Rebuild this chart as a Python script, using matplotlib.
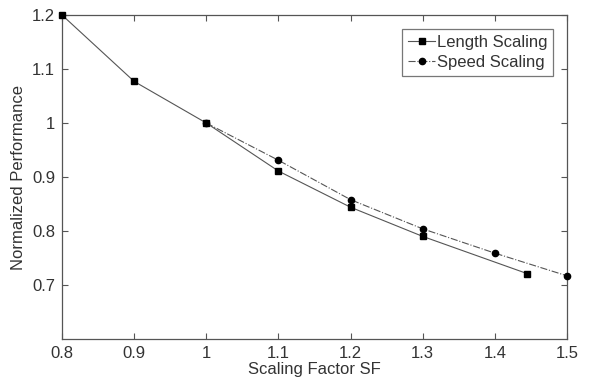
import matplotlib
matplotlib.use("Agg")
import matplotlib.pyplot as plt

plt.rcParams['font.family'] = ['Liberation Sans', 'DejaVu Sans']

length_x = [0.8, 0.9, 1.0, 1.1, 1.2, 1.3, 1.445]
length_y = [1.2, 1.077, 1.0, 0.911, 0.844, 0.790, 0.721]
speed_x = [1.0, 1.1, 1.2, 1.3, 1.4, 1.5]
speed_y = [1.0, 0.931, 0.858, 0.804, 0.759, 0.717]
xticks = [0.8, 0.9, 1.0, 1.1, 1.2, 1.3, 1.4, 1.5]
xticklabels = ['0.8', '0.9', '1', '1.1', '1.2', '1.3', '1.4', '1.5']
yticks = [0.7, 0.8, 0.9, 1.0, 1.1, 1.2]
yticklabels = ['0.7', '0.8', '0.9', '1', '1.1', '1.2']

fig = plt.figure(figsize=(5.93, 3.79), dpi=100)
ax = fig.add_axes([62/593, 1 - 339/379, (567-62)/593, (339-15)/379])

ax.plot(length_x, length_y, '-', color='#555555', lw=0.8, marker='s', ms=4.5,
        mfc='black', mec='black', label='Length Scaling', clip_on=False, zorder=3)
ax.plot(speed_x, speed_y, '-.', color='#555555', lw=0.8, marker='o', ms=4.5,
        mfc='black', mec='black', label='Speed Scaling', clip_on=False, zorder=3)

ax.set_xlim(0.8, 1.5)
ax.set_ylim(0.6, 1.2)
ax.set_xticks(xticks)
ax.set_xticklabels(xticklabels)
ax.set_yticks(yticks)
ax.set_yticklabels(yticklabels)
ax.tick_params(direction='in', top=True, right=True, length=4, labelsize=12,
               color='#555555', labelcolor='#333333', pad=5)
for s in ax.spines.values():
    s.set_color('#555555')
    s.set_linewidth(0.9)
ax.set_xlabel('Scaling Factor SF', fontsize=12, color='#333333', labelpad=1)
ax.set_ylabel('Normalized Performance', fontsize=12, color='#333333', labelpad=4)

leg = ax.legend(loc='upper right', fontsize=12, frameon=True, fancybox=False,
                edgecolor='#555555', handlelength=1.6, handletextpad=0.1,
                borderpad=0.35, labelspacing=0.3, borderaxespad=0.85,
                handleheight=0.6)
leg.get_frame().set_linewidth(0.9)
for t in leg.get_texts():
    t.set_color('#333333')

fig.savefig('out.png', dpi=100)
